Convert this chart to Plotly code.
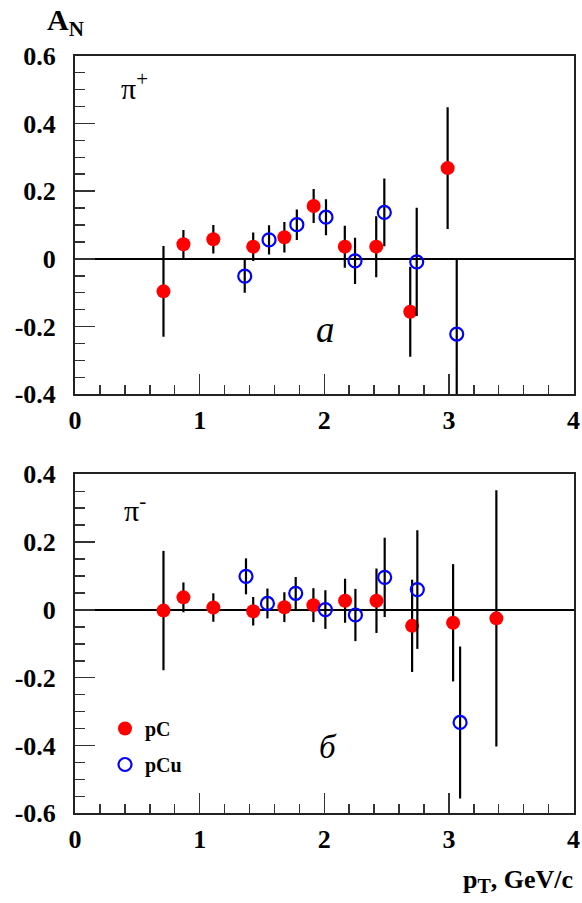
import plotly.graph_objects as go

# ---------------- data ----------------
# top panel (pi+)
pt_pC_top = [0.71, 0.87, 1.11, 1.43, 1.68, 1.915, 2.165, 2.417, 2.69, 2.99]
an_pC_top = [-0.096, 0.043, 0.058, 0.036, 0.064, 0.156, 0.036, 0.036, -0.156, 0.268]
er_pC_top = [0.134, 0.042, 0.042, 0.042, 0.045, 0.050, 0.062, 0.090, 0.133, 0.180]

pt_pCu_top = [1.362, 1.557, 1.78, 2.014, 2.247, 2.482, 2.742, 3.063]
an_pCu_top = [-0.051, 0.056, 0.101, 0.123, -0.006, 0.137, -0.009, -0.222]
er_pCu_top = [0.049, 0.043, 0.045, 0.053, 0.068, 0.100, 0.160, 0.222]

# bottom panel (pi-)
pt_pC_bot = [0.71, 0.87, 1.11, 1.43, 1.68, 1.913, 2.167, 2.419, 2.705, 3.034, 3.381]
an_pC_bot = [-0.002, 0.037, 0.007, -0.004, 0.008, 0.014, 0.027, 0.027, -0.047, -0.038, -0.025]
er_pC_bot = [0.176, 0.044, 0.042, 0.042, 0.044, 0.050, 0.065, 0.095, 0.136, 0.173, 0.378]

pt_pCu_bot = [1.372, 1.544, 1.771, 2.009, 2.25, 2.485, 2.747, 3.09]
an_pCu_bot = [0.099, 0.019, 0.049, 0.001, -0.015, 0.096, 0.060, -0.332]
er_pCu_bot = [0.053, 0.044, 0.048, 0.057, 0.077, 0.117, 0.175, 0.224]

x_tickvals = [0, 1, 2, 3, 4]
x_ticktext = ["0", "1", "2", "3", "4"]
y_top_tickvals = [-0.4, -0.2, 0, 0.2, 0.4, 0.6]
y_top_ticktext = ["-0.4", "-0.2", "0", "0.2", "0.4", "0.6"]
y_bot_tickvals = [-0.6, -0.4, -0.2, 0, 0.2, 0.4]
y_bot_ticktext = ["-0.6", "-0.4", "-0.2", "0", "0.2", "0.4"]

# ---------------- figure ----------------
W, H = 582, 903
SERIF = "Liberation Serif, Times New Roman, serif"
RED = "#ff0000"
BLUE = "#0000ff"

fig = go.Figure()

def add_series(x, y, e, xa, ya, name, filled, show):
    if filled:
        marker = dict(symbol="circle", size=14, color=RED, line=dict(width=0))
    else:
        marker = dict(symbol="circle-open", size=13, color=BLUE, line=dict(width=2.2, color=BLUE))
    fig.add_trace(go.Scatter(
        x=x, y=y, mode="markers", name=name, xaxis=xa, yaxis=ya,
        marker=marker, showlegend=show, legendgroup=name,
        error_y=dict(type="data", array=e, visible=True, color="black", thickness=2.2, width=0),
        cliponaxis=True, hoverinfo="skip",
    ))

add_series(pt_pC_top, an_pC_top, er_pC_top, "x", "y", "pC", True, False)
add_series(pt_pCu_top, an_pCu_top, er_pCu_top, "x", "y", "pCu", False, False)
add_series(pt_pC_bot, an_pC_bot, er_pC_bot, "x2", "y2", "pC", True, True)
add_series(pt_pCu_bot, an_pCu_bot, er_pCu_bot, "x2", "y2", "pCu", False, True)

tickfont = dict(family=SERIF, size=26, color="black", weight="bold")

def xaxis(domain_anchor):
    return dict(
        range=[0, 4], domain=[75 / W, 573.5 / W], anchor=domain_anchor,
        tickmode="array", tickvals=x_tickvals, ticktext=x_ticktext,
        ticks="inside", ticklen=20, tickwidth=1.5, tickcolor="#333",
        minor=dict(ticks="inside", ticklen=9, dtick=0.2, tick0=0, tickwidth=1.5, tickcolor="#333"),
        showline=True, linecolor="#222", linewidth=2, mirror=True,
        showgrid=False, zeroline=False, tickfont=tickfont,
        ticklabelstandoff=1, automargin=False, fixedrange=True,
    )

def yaxis(domain, rng, tv, tt, anchor):
    return dict(
        range=rng, domain=domain, anchor=anchor,
        tickmode="array", tickvals=tv, ticktext=tt,
        ticks="inside", ticklen=20, tickwidth=1.5, tickcolor="#333",
        minor=dict(ticks="inside", ticklen=10, dtick=0.05, tick0=0, tickwidth=1.5, tickcolor="#333"),
        showline=True, linecolor="#222", linewidth=2, mirror=True,
        showgrid=False, zeroline=True, zerolinecolor="black", zerolinewidth=2.2,
        tickfont=tickfont, ticklabelstandoff=12, automargin=False, fixedrange=True,
    )

fig.update_layout(
    template="none",
    width=W, height=H,
    margin=dict(l=0, r=0, t=0, b=0, pad=0, autoexpand=False),
    paper_bgcolor="white", plot_bgcolor="white",
    xaxis=xaxis("y"),
    yaxis=yaxis([1 - 394.3 / H, 1 - 55.7 / H], [-0.4, 0.6], y_top_tickvals, y_top_ticktext, "x"),
    xaxis2=xaxis("y2"),
    yaxis2=yaxis([1 - 813.3 / H, 1 - 474.3 / H], [-0.6, 0.4], y_bot_tickvals, y_bot_ticktext, "x2"),
    legend=dict(
        x=105 / W, y=1 - 709 / H, xanchor="left", yanchor="top",
        bgcolor="rgba(0,0,0,0)", borderwidth=0,
        font=dict(family=SERIF, size=20, color="black", weight="bold"),
        tracegroupgap=7, traceorder="grouped",
    ),
    showlegend=True,
)

ann = [
    dict(text="<b>A<sub>N</sub></b>", xref="paper", yref="paper", x=45 / W, y=1 - 1 / H,
         xanchor="left", yanchor="top", font=dict(family=SERIF, size=30, color="black")),
    dict(text="<b>p<sub><span style='font-size:20px'>T</span></sub>, GeV/c</b>", xref="paper", yref="paper",
         x=575 / W, y=1 - 899 / H,
         xanchor="right", yanchor="bottom", font=dict(family=SERIF, size=26, color="black")),
    dict(text="π<sup>+</sup>", xref="x", yref="y", x=0.48, y=0.51,
         xanchor="center", yanchor="middle", font=dict(family=SERIF, size=30, color="black")),
    dict(text="π<sup>-</sup>", xref="x2", yref="y2", x=0.48, y=0.30,
         xanchor="center", yanchor="middle", font=dict(family=SERIF, size=30, color="black")),
    dict(text="<i>a</i>", xref="x", yref="y", x=2.01, y=-0.21,
         xanchor="center", yanchor="middle", font=dict(family=SERIF, size=37, color="black")),
    dict(text="<i>б</i>", xref="x2", yref="y2", x=2.03, y=-0.405,
         xanchor="center", yanchor="middle", font=dict(family=SERIF, size=33, color="black")),
]
for a in ann:
    a["showarrow"] = False
fig.update_layout(annotations=ann)

fig.write_html("out.html", config={"displayModeBar": False, "staticPlot": True},
               post_script="document.body.style.margin='0px';document.body.style.overflow='hidden';")
